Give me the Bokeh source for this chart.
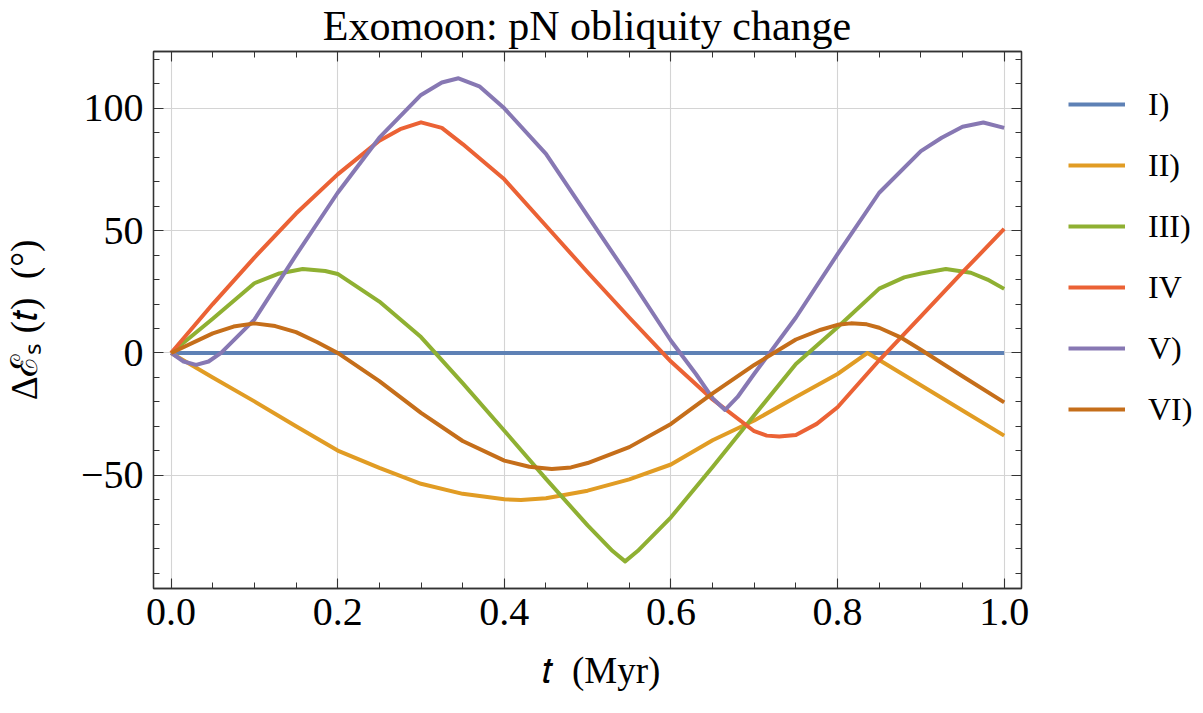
from bokeh.plotting import figure
from bokeh.layouts import row
from bokeh.models import Range1d, LinearAxis, FixedTicker, Legend, LegendItem, Label
from bokeh.embed import file_html
from bokeh.resources import INLINE

# ---------------- data ----------------
series_names = ["I)", "II)", "III)", "IV", "V)", "VI)"]
series_colors = ["#5E81B5", "#E19C24", "#8FB032", "#EB6235", "#8778B3", "#C56E1A"]

t_I = [0.0, 0.25, 0.5, 0.75, 1.0]
v_I = [0.0, 0.0, 0.0, 0.0, 0.0]

t_II = [0.0, 0.05, 0.1, 0.15, 0.2, 0.25, 0.3, 0.35, 0.4, 0.42, 0.45, 0.5, 0.55, 0.6, 0.65, 0.7, 0.75, 0.8, 0.836, 0.85, 0.9, 0.95, 1.0]
v_II = [0.0, -10.0, -19.8, -30.0, -39.9, -47.0, -53.5, -57.6, -59.8, -60.1, -59.4, -56.3, -51.7, -45.6, -35.7, -27.6, -18.0, -8.6, 0.0, -2.9, -13.2, -23.5, -33.8]

t_III = [0.0, 0.05, 0.1, 0.13, 0.158, 0.185, 0.2, 0.25, 0.3, 0.35, 0.4, 0.45, 0.5, 0.53, 0.545, 0.56, 0.6, 0.65, 0.7, 0.75, 0.8, 0.85, 0.88, 0.9, 0.93, 0.96, 0.98, 1.0]
v_III = [0.0, 14.0, 28.5, 32.5, 34.3, 33.5, 32.3, 21.0, 6.5, -12.3, -31.8, -51.5, -70.5, -81.0, -85.2, -81.0, -67.2, -46.6, -25.5, -4.5, 10.5, 26.3, 30.9, 32.5, 34.3, 32.8, 30.0, 26.2]

t_IV = [0.0, 0.05, 0.1, 0.15, 0.2, 0.25, 0.275, 0.3, 0.325, 0.35, 0.4, 0.45, 0.5, 0.55, 0.6, 0.65, 0.7, 0.715, 0.73, 0.75, 0.775, 0.8, 0.85, 0.9, 0.95, 1.0]
v_IV = [0.0, 20.0, 39.0, 57.0, 73.0, 86.8, 91.5, 94.3, 92.0, 85.4, 71.0, 52.0, 33.0, 14.5, -3.5, -19.0, -32.0, -33.8, -34.2, -33.5, -29.0, -22.2, -3.0, 15.0, 33.0, 50.7]

t_V = [0.0, 0.015, 0.03, 0.045, 0.06, 0.1, 0.15, 0.2, 0.25, 0.3, 0.325, 0.345, 0.37, 0.4, 0.45, 0.5, 0.55, 0.6, 0.63, 0.65, 0.665, 0.68, 0.7, 0.75, 0.8, 0.85, 0.9, 0.925, 0.95, 0.975, 1.0]
v_V = [0.0, -3.5, -4.9, -3.5, 0.0, 13.6, 40.0, 65.5, 88.0, 105.5, 110.6, 112.3, 109.0, 100.0, 81.4, 56.0, 30.9, 5.0, -8.6, -18.5, -23.3, -18.0, -8.5, 14.5, 40.4, 65.5, 82.5, 88.0, 92.5, 94.2, 92.0]

t_VI = [0.0, 0.05, 0.075, 0.1, 0.125, 0.15, 0.175, 0.2, 0.25, 0.3, 0.35, 0.4, 0.43, 0.457, 0.48, 0.5, 0.55, 0.6, 0.65, 0.7, 0.75, 0.78, 0.8, 0.816, 0.835, 0.85, 0.875, 0.9, 0.95, 1.0]
v_VI = [0.0, 8.0, 10.8, 12.1, 11.0, 8.5, 4.5, 0.0, -11.5, -24.5, -36.0, -44.0, -46.5, -47.4, -46.8, -45.0, -38.5, -29.0, -16.5, -4.9, 5.5, 9.5, 11.5, 12.1, 11.7, 10.3, 6.5, 1.3, -9.5, -20.2]

x_ticks = [0.0, 0.2, 0.4, 0.6, 0.8, 1.0]
x_tick_labels = ["0.0", "0.2", "0.4", "0.6", "0.8", "1.0"]
x_minor = [0.05, 0.1, 0.15, 0.25, 0.3, 0.35, 0.45, 0.5, 0.55, 0.65, 0.7, 0.75, 0.85, 0.9, 0.95]
y_ticks = [-50, 0, 50, 100]
y_tick_labels = ["\u221250", "0", "50", "100"]
y_minor = [-90, -80, -70, -60, -40, -30, -20, -10, 10, 20, 30, 40, 60, 70, 80, 90, 110, 120]

title_text = "Exomoon: pN obliquity change"
x_label = "\u00a0\u00a0\u00a0\U0001D461\u00a0\u00a0(Myr)"
y_label = "\u0394\u2130\u209b\u00a0(\U0001D461)\u00a0\u00a0(\u00b0)"

# ---------------- layout ----------------
W, H = 1203, 713
W1 = 1040                     # main plot width; the rest holds the legend
W2 = W - W1
BL, BT = 151, 51
FW, FH = 870, 537
BR, BB = W1 - BL - FW, H - BT - FH
X0, X1 = -0.0211, 1.0208
Y0, Y1 = -96.3, 123.25
FONT = "Liberation Serif"
AX = "#333333"


def win(px, py):
    """picture pixel -> data coordinates (text placement only)"""
    x = X0 + (px - BL) / FW * (X1 - X0)
    y = Y1 - (py - BT) / FH * (Y1 - Y0)
    return x, y


p = figure(width=W1, height=H, x_range=Range1d(X0, X1), y_range=Range1d(Y0, Y1),
           output_backend="svg", toolbar_location=None, title=None,
           min_border_left=BL, min_border_right=BR, min_border_top=BT, min_border_bottom=BB)
p.background_fill_color = "white"
p.border_fill_color = "white"
p.outline_line_color = AX
p.outline_line_width = 1.3

xt = FixedTicker(ticks=x_ticks, minor_ticks=x_minor)
yt = FixedTicker(ticks=y_ticks, minor_ticks=y_minor)


def style(ax, ticker, labels=True):
    ax.ticker = ticker
    ax.axis_line_color = AX
    ax.axis_line_width = 1.3
    ax.major_tick_in = 10
    ax.major_tick_out = 0
    ax.minor_tick_in = 6
    ax.minor_tick_out = 0
    ax.major_tick_line_color = AX
    ax.minor_tick_line_color = AX
    ax.major_tick_line_width = 1.1
    ax.minor_tick_line_width = 1.0
    ax.major_label_text_font = FONT
    ax.major_label_text_color = "black"
    if labels:
        ax.major_label_text_font_size = "40px"
        ax.major_label_standoff = 10
    else:
        ax.major_label_text_font_size = "0px"
        ax.major_label_standoff = 0


xa = p.xaxis[0]
ya = p.yaxis[0]
style(xa, xt)
style(ya, yt)
xa.major_label_overrides = dict(zip(x_ticks, x_tick_labels))
ya.major_label_overrides = dict(zip(y_ticks, y_tick_labels))

xa.axis_label = x_label
xa.axis_label_text_font = FONT
xa.axis_label_text_font_style = "normal"
xa.axis_label_text_font_size = "37px"
xa.axis_label_text_color = "black"
xa.axis_label_standoff = 22

ya.axis_label = y_label
ya.axis_label_text_font = FONT
ya.axis_label_text_font_style = "normal"
ya.axis_label_text_font_size = "37px"
ya.axis_label_text_color = "black"
ya.axis_label_standoff = 33

top = LinearAxis()
style(top, xt, labels=False)
top.major_label_overrides = {t: "" for t in x_ticks}
p.add_layout(top, "above")
right = LinearAxis()
style(right, yt, labels=False)
right.major_label_overrides = {t: "" for t in y_ticks}
p.add_layout(right, "right")

p.xgrid.ticker = xt
p.ygrid.ticker = yt
for g in (p.xgrid[0], p.ygrid[0]):
    g.grid_line_color = "#d4d4d4"
    g.grid_line_width = 1.1

ts = [t_I, t_II, t_III, t_IV, t_V, t_VI]
vs = [v_I, v_II, v_III, v_IV, v_V, v_VI]
for t, v, c in zip(ts, vs, series_colors):
    p.line(t, v, line_color=c, line_width=4, line_join="round")

# title in the top panel (data x, empirically corrected y; kept inside the canvas)
tx, ty = win(585.5, 25.0)
p.add_layout(Label(x=tx, y=ty, text=title_text, text_font=FONT, text_font_size="42px",
                   text_align="center", text_baseline="alphabetic", text_color="black"), "above")

# ---------------- legend panel (separate small figure) ----------------
lg = figure(width=W2, height=H, x_range=Range1d(2, 3), y_range=Range1d(Y0, Y1),
            output_backend="svg", toolbar_location=None, title=None,
            x_axis_location=None, y_axis_location=None, min_border=0)
lg.outline_line_color = None
lg.background_fill_color = "white"
lg.border_fill_color = "white"
lg.xgrid.visible = False
lg.ygrid.visible = False
lrends = []
for t, v, c in zip(ts, vs, series_colors):
    lrends.append(lg.line(t, v, line_color=c, line_width=4))

legend = Legend(items=[LegendItem(label=n, renderers=[r]) for n, r in zip(series_names, lrends)],
                location=(1068 - W1, H - 554), orientation="vertical",
                label_text_font=FONT, label_text_font_size="32px", label_text_color="black",
                glyph_width=57, glyph_height=40, label_height=40, spacing=21,
                padding=0, margin=0, label_standoff=23,
                border_line_alpha=0, background_fill_alpha=0)
lg.add_layout(legend)

layout = row(p, lg, spacing=0)
open("out.html", "w").write(file_html(layout, INLINE))
